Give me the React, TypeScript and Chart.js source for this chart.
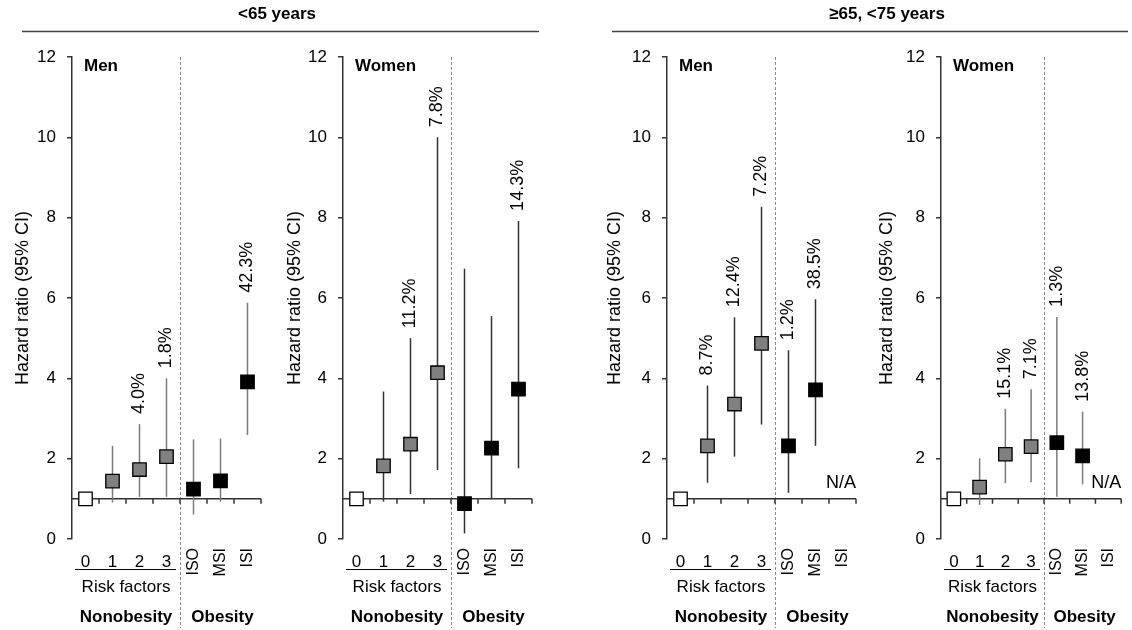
import React, { useEffect, useRef } from 'react';
import { Chart, registerables } from 'chart.js';

Chart.register(...registerables);

const FONT = '"Liberation Sans", Arial, Helvetica, sans-serif';

const categories = ['0', '1', '2', '3', 'ISO', 'MSI', 'ISI'];
const yTicks = [0, 2, 4, 6, 8, 10, 12];

// <65 years, men
const menU65Hr = [1.0, 1.44, 1.73, 2.05, 1.24, 1.45, 3.91];
const menU65Lo = [null, 0.91, 1.05, 1.05, 0.61, 0.93, 2.59];
const menU65Hi = [null, 2.32, 2.86, 4.0, 2.48, 2.5, 5.88];
const menU65Pct = [null, null, '4.0%', '1.8%', null, null, '42.3%'];

// <65 years, women
const womenU65Hr = [1.0, 1.82, 2.36, 4.14, 0.88, 2.26, 3.73];
const womenU65Lo = [null, 0.93, 1.12, 1.72, 0.14, 0.99, 1.76];
const womenU65Hi = [null, 3.67, 5.0, 10.0, 6.73, 5.55, 7.92];
const womenU65Pct = [null, null, '11.2%', '7.8%', null, null, '14.3%'];

// >=65, <75 years, men
const men65Hr = [1.0, 2.32, 3.36, 4.87, 2.32, 3.71, null];
const men65Lo = [null, 1.4, 2.05, 2.85, 1.15, 2.32, null];
const men65Hi = [null, 3.82, 5.52, 8.27, 4.7, 5.97, null];
const men65Pct = [null, '8.7%', '12.4%', '7.2%', '1.2%', '38.5%', null];

// >=65, <75 years, women
const women65Hr = [1.0, 1.29, 2.11, 2.3, 2.4, 2.07, null];
const women65Lo = [null, 0.85, 1.39, 1.41, 1.05, 1.36, null];
const women65Hi = [null, 2.01, 3.24, 3.73, 5.53, 3.17, null];
const women65Pct = [null, null, '15.1%', '7.1%', '1.3%', '13.8%', null];

const panels = [
  { key: 'p1', label: 'Men', hr: menU65Hr, lo: menU65Lo, hi: menU65Hi, pct: menU65Pct, axisX: 72, titleX: 23, barColor: '#7a7a7a',
    header: { text: '<65 years', cx: 277, x1: 22, x2: 539 } },
  { key: 'p2', label: 'Women', hr: womenU65Hr, lo: womenU65Lo, hi: womenU65Hi, pct: womenU65Pct, axisX: 343, titleX: 295, barColor: '#333333' },
  { key: 'p3', label: 'Men', hr: men65Hr, lo: men65Lo, hi: men65Hi, pct: men65Pct, axisX: 667, titleX: 615, barColor: '#333333',
    header: { text: '≥65, <75 years', cx: 887, x1: 612, x2: 1128 } },
  { key: 'p4', label: 'Women', hr: women65Hr, lo: women65Lo, hi: women65Hi, pct: women65Pct, axisX: 941, titleX: 887, barColor: '#7a7a7a' },
];

const W = 1132;
const H = 630;
const AXIS_W = 189;
const YSCALE_W = 72;
const TITLE_SIZE = 18;

function makeDecor(cfg: any) {
  return {
    id: 'decor_' + cfg.key,
    beforeDatasetsDraw(chart: any) {
      const { ctx, chartArea } = chart;
      const x = chart.scales.x;
      const y = chart.scales.y;
      const px = (v: number) => x.getPixelForValue(v);
      const py = (v: number) => y.getPixelForValue(v);
      ctx.save();
      // dashed divider
      ctx.strokeStyle = '#8a8a8a';
      ctx.lineWidth = 1;
      ctx.setLineDash([3, 2]);
      const dx = Math.round(px(3.5)) + 0.5;
      ctx.beginPath();
      ctx.moveTo(dx, chartArea.top);
      ctx.lineTo(dx, 628);
      ctx.stroke();
      ctx.setLineDash([]);
      // baseline at HR = 1
      const by = py(1);
      ctx.strokeStyle = '#333';
      ctx.lineWidth = 1.5;
      ctx.beginPath();
      ctx.moveTo(chartArea.left, by);
      ctx.lineTo(px(6.5), by);
      for (let k = 0; k < categories.length; k++) {
        const tx = px(k + 0.5);
        ctx.moveTo(tx, by);
        ctx.lineTo(tx, by + 5);
      }
      ctx.stroke();
      // error bars
      ctx.strokeStyle = cfg.barColor;
      ctx.lineWidth = 1.5;
      cfg.lo.forEach((lo: number | null, i: number) => {
        const hi = cfg.hi[i];
        if (lo == null || hi == null) return;
        ctx.beginPath();
        ctx.moveTo(px(i), py(lo));
        ctx.lineTo(px(i), py(hi));
        ctx.stroke();
      });
      ctx.restore();
    },
    afterDatasetsDraw(chart: any) {
      const { ctx, chartArea } = chart;
      const x = chart.scales.x;
      const y = chart.scales.y;
      const px = (v: number) => x.getPixelForValue(v);
      const py = (v: number) => y.getPixelForValue(v);
      ctx.save();
      ctx.fillStyle = '#000';
      // percent labels
      ctx.font = `18px ${FONT}`;
      cfg.pct.forEach((t: string | null, i: number) => {
        if (!t || cfg.hi[i] == null) return;
        ctx.save();
        ctx.translate(px(i), py(cfg.hi[i]) - 10);
        ctx.rotate(-Math.PI / 2);
        ctx.textAlign = 'left';
        ctx.textBaseline = 'middle';
        ctx.fillText(t, 0, 0);
        ctx.restore();
      });
      // N/A for missing
      cfg.hr.forEach((v: number | null, i: number) => {
        if (v != null) return;
        ctx.font = `18px ${FONT}`;
        ctx.textAlign = 'right';
        ctx.textBaseline = 'alphabetic';
        ctx.fillText('N/A', px(6.5), 488);
      });
      // category labels
      categories.forEach((c, i) => {
        if (i <= 3) {
          ctx.font = `17px ${FONT}`;
          ctx.textAlign = 'center';
          ctx.textBaseline = 'alphabetic';
          ctx.fillText(c, px(i), 567);
        } else {
          ctx.save();
          ctx.font = `16px ${FONT}`;
          ctx.translate(px(i), 548);
          ctx.rotate(-Math.PI / 2);
          ctx.textAlign = 'right';
          ctx.textBaseline = 'middle';
          ctx.fillText(c, 0, 0);
          ctx.restore();
        }
      });
      // underline below risk factor counts
      ctx.strokeStyle = '#000';
      ctx.lineWidth = 1.2;
      ctx.beginPath();
      ctx.moveTo(chartArea.left + 3, 569.5);
      ctx.lineTo(px(3.5) - 4, 569.5);
      ctx.stroke();
      ctx.font = `17px ${FONT}`;
      ctx.textAlign = 'center';
      ctx.textBaseline = 'middle';
      ctx.fillText('Risk factors', px(1.5), 587);
      ctx.font = `bold 17px ${FONT}`;
      ctx.fillText('Nonobesity', px(1.5), 617);
      ctx.fillText('Obesity', px(5) + 2, 617);
      // panel label
      ctx.textAlign = 'left';
      ctx.fillText(cfg.label, chartArea.left + 12, 66);
      // header
      if (cfg.header) {
        ctx.font = `bold 17px ${FONT}`;
        ctx.textAlign = 'center';
        ctx.textBaseline = 'middle';
        ctx.fillText(cfg.header.text, cfg.header.cx, 14);
        ctx.strokeStyle = '#444';
        ctx.lineWidth = 1.5;
        ctx.beginPath();
        ctx.moveTo(cfg.header.x1, 31.5);
        ctx.lineTo(cfg.header.x2, 31.5);
        ctx.stroke();
      }
      ctx.restore();
    },
  };
}

function Panel({ cfg }: { cfg: any }) {
  const ref = useRef<HTMLCanvasElement | null>(null);
  useEffect(() => {
    if (!ref.current) return;
    const pts: any[] = [];
    const fills: string[] = [];
    cfg.hr.forEach((v: number | null, i: number) => {
      if (v == null) return;
      pts.push({ x: i, y: v });
      fills.push(i === 0 ? '#ffffff' : i <= 3 ? '#808080' : '#000000');
    });
    const padLeft = cfg.axisX - YSCALE_W;
    const titlePad = cfg.titleX - padLeft - (TITLE_SIZE * 1.2) / 2;
    const chart = new Chart(ref.current, {
      type: 'scatter',
      data: {
        datasets: [
          {
            data: pts,
            pointStyle: 'rect',
            pointRadius: 9.5,
            pointHoverRadius: 9.5,
            backgroundColor: fills,
            borderColor: '#000',
            borderWidth: 1.3,
          },
        ],
      },
      options: {
        responsive: false,
        animation: false,
        events: [],
        layout: {
          padding: { left: padLeft, right: W - (cfg.axisX + AXIS_W), top: 57, bottom: 91 },
        },
        scales: {
          x: { type: 'linear', min: -0.5, max: 6.5, display: false },
          y: {
            type: 'linear',
            min: 0,
            max: 12,
            afterFit: (s: any) => {
              s.width = YSCALE_W;
            },
            afterBuildTicks: (s: any) => {
              s.ticks = yTicks.map((v) => ({ value: v }));
            },
            ticks: { font: { family: FONT, size: 17 }, color: '#000', padding: 11 },
            grid: { drawOnChartArea: false, drawTicks: true, tickLength: 5, color: '#333', lineWidth: 1.5 },
            border: { display: true, color: '#333', width: 1.5 },
            title: {
              display: true,
              text: 'Hazard ratio (95% CI)',
              font: { family: FONT, size: TITLE_SIZE, lineHeight: 1.2 },
              color: '#000',
              padding: { top: titlePad, bottom: 0 },
            },
          },
        },
        plugins: { legend: { display: false }, tooltip: { enabled: false } },
      },
      plugins: [makeDecor(cfg)],
    } as any);
    return () => chart.destroy();
  }, [cfg]);
  return (
    <canvas
      ref={ref}
      width={W}
      height={H}
      style={{ position: 'absolute', left: 0, top: 0, width: W, height: H }}
    />
  );
}

export default function App() {
  return (
    <div style={{ position: 'fixed', left: 0, top: 0, width: W, height: H, background: '#fff' }}>
      {panels.map((p) => (
        <Panel key={p.key} cfg={p} />
      ))}
    </div>
  );
}
